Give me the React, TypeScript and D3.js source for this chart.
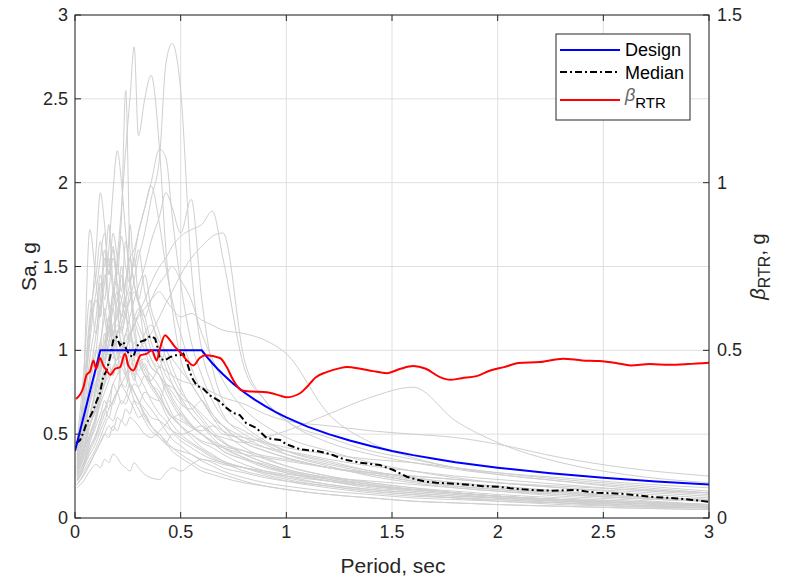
import React from "react";
import * as d3 from "d3";

// Period grid shared by the individual ground-motion spectra (sec)
const periods = [0.01, 0.04, 0.07, 0.1, 0.12, 0.14, 0.16, 0.18, 0.2, 0.22, 0.24, 0.26, 0.28, 0.3, 0.33, 0.36, 0.4, 0.43, 0.46, 0.5, 0.55, 0.6, 0.65, 0.7, 0.8, 0.9, 1.0, 1.2, 1.4, 1.6, 1.8, 2.0, 2.3, 2.6, 3.0];

// Scaled record spectra, Sa (g) at each period above
const records: number[][] = [
  [0.40,0.52,0.70,0.82,0.88,0.95,1.02,1.10,1.15,1.12,1.22,1.30,1.42,1.55,1.70,1.90,2.15,2.71,2.83,2.55,1.50,1.00,0.78,0.62,0.50,0.44,0.38,0.31,0.25,0.21,0.18,0.16,0.13,0.11,0.08],
  [0.35,0.48,0.68,0.80,0.92,1.05,1.20,1.35,1.55,1.85,2.20,2.50,2.81,2.28,2.50,2.64,2.20,1.60,1.25,0.95,0.80,0.70,0.60,0.52,0.42,0.36,0.31,0.25,0.21,0.18,0.15,0.13,0.11,0.09,0.07],
  [0.32,0.45,0.62,0.78,0.90,1.00,1.15,1.30,1.50,1.80,2.55,1.60,1.40,1.30,1.20,1.05,0.95,0.85,0.80,0.70,0.62,0.55,0.48,0.42,0.36,0.31,0.27,0.22,0.19,0.16,0.14,0.12,0.10,0.08,0.06],
  [0.38,0.55,0.80,1.00,1.25,1.40,1.60,1.95,2.19,2.00,1.70,1.45,1.20,1.10,1.00,0.90,0.85,0.75,0.68,0.60,0.55,0.50,0.45,0.40,0.35,0.32,0.28,0.23,0.20,0.17,0.15,0.13,0.11,0.09,0.07],
  [0.30,0.42,0.55,0.65,0.75,0.85,0.92,1.00,1.10,1.20,1.30,1.40,1.55,1.70,1.85,2.00,2.20,2.15,1.80,1.40,1.05,0.85,0.70,0.60,0.52,0.45,0.40,0.34,0.28,0.24,0.21,0.19,0.16,0.13,0.11],
  [0.42,0.70,1.10,1.60,1.94,1.75,1.50,1.62,1.40,1.30,1.20,1.35,1.10,1.00,0.90,0.85,0.78,0.70,0.62,0.55,0.48,0.42,0.38,0.34,0.30,0.26,0.23,0.19,0.16,0.14,0.12,0.11,0.09,0.08,0.06],
  [0.28,0.40,0.55,0.68,0.80,0.92,1.05,1.15,1.20,1.30,1.42,1.55,1.60,1.70,1.85,1.98,1.75,1.50,1.30,1.10,0.90,0.75,0.62,0.55,0.45,0.40,0.36,0.30,0.26,0.22,0.19,0.17,0.14,0.12,0.10],
  [0.25,0.32,0.42,0.50,0.58,0.65,0.72,0.80,0.85,0.92,1.00,1.08,1.15,1.22,1.30,1.40,1.50,1.55,1.62,1.68,1.72,1.75,1.83,1.55,0.90,0.70,0.58,0.48,0.40,0.35,0.30,0.27,0.23,0.20,0.16],
  [0.22,0.30,0.38,0.45,0.52,0.58,0.65,0.70,0.75,0.80,0.85,0.90,0.95,1.00,1.05,1.10,1.20,1.28,1.35,1.45,1.55,1.62,1.68,1.70,0.95,0.70,0.58,0.45,0.38,0.33,0.29,0.26,0.22,0.19,0.15],
  [0.30,0.40,0.50,0.60,0.68,0.75,0.82,0.90,0.95,1.00,1.10,1.20,1.30,1.38,1.50,1.65,1.80,1.94,1.85,1.70,1.90,1.30,0.90,0.70,0.55,0.46,0.40,0.33,0.28,0.24,0.21,0.19,0.16,0.13,0.11],
  [0.35,0.80,1.72,1.40,1.20,1.55,1.30,1.10,1.00,0.95,0.88,0.80,0.75,0.70,0.62,0.55,0.50,0.45,0.40,0.36,0.32,0.28,0.26,0.24,0.21,0.19,0.17,0.14,0.12,0.10,0.09,0.08,0.07,0.06,0.05],
  [0.40,0.75,1.20,1.45,1.65,1.50,1.75,1.40,1.30,1.50,1.25,1.10,1.15,0.95,0.85,0.80,0.72,0.65,0.60,0.55,0.50,0.45,0.42,0.38,0.32,0.28,0.25,0.20,0.17,0.15,0.13,0.12,0.10,0.08,0.07],
  [0.30,0.55,0.85,1.10,1.30,1.60,1.45,1.70,1.55,1.35,1.65,1.40,1.20,1.25,1.05,0.95,0.85,0.78,0.70,0.62,0.55,0.50,0.45,0.42,0.36,0.31,0.28,0.23,0.19,0.17,0.15,0.13,0.11,0.10,0.08],
  [0.26,0.40,0.60,0.80,1.00,1.25,1.10,1.35,1.20,1.45,1.30,1.75,1.50,1.60,1.35,1.20,1.00,0.90,0.80,0.72,0.62,0.55,0.50,0.45,0.40,0.35,0.31,0.25,0.21,0.18,0.16,0.14,0.12,0.10,0.08],
  [0.45,0.85,1.30,1.10,1.40,1.20,1.05,1.25,1.00,0.90,0.95,0.80,0.75,0.70,0.60,0.55,0.48,0.44,0.42,0.38,0.34,0.30,0.28,0.26,0.22,0.19,0.17,0.14,0.12,0.10,0.09,0.08,0.07,0.06,0.05],
  [0.20,0.25,0.32,0.40,0.45,0.50,0.55,0.52,0.60,0.58,0.65,0.62,0.70,0.68,0.75,0.72,0.70,0.80,0.75,0.68,0.65,0.70,0.60,0.55,0.48,0.42,0.38,0.32,0.27,0.23,0.20,0.18,0.15,0.12,0.10],
  [0.18,0.22,0.28,0.32,0.30,0.35,0.33,0.38,0.36,0.32,0.30,0.28,0.33,0.30,0.26,0.24,0.23,0.27,0.30,0.28,0.32,0.35,0.33,0.30,0.27,0.24,0.22,0.19,0.16,0.14,0.12,0.11,0.09,0.07,0.06],
  [0.22,0.30,0.45,0.55,0.62,0.70,0.65,0.80,0.75,0.90,0.85,0.95,1.05,0.98,1.10,1.15,1.05,1.00,0.95,0.88,0.80,0.70,0.62,0.55,0.45,0.40,0.36,0.30,0.26,0.22,0.19,0.17,0.15,0.13,0.11],
  [0.33,0.50,0.75,0.90,1.05,0.95,1.15,1.00,0.90,1.05,0.85,0.78,0.70,0.65,0.58,0.52,0.48,0.45,0.50,0.46,0.42,0.38,0.35,0.33,0.30,0.27,0.25,0.22,0.19,0.17,0.15,0.13,0.11,0.10,0.08],
  [0.28,0.38,0.55,0.70,0.85,1.00,1.20,1.05,1.30,1.15,1.00,1.10,0.95,0.88,0.92,0.80,0.75,0.65,0.60,0.62,0.55,0.52,0.55,0.50,0.48,0.45,0.42,0.38,0.35,0.33,0.30,0.27,0.24,0.21,0.18],
  [0.25,0.32,0.42,0.50,0.58,0.65,0.60,0.70,0.75,0.68,0.72,0.80,0.75,0.70,0.65,0.60,0.58,0.55,0.52,0.50,0.52,0.55,0.50,0.48,0.45,0.48,0.52,0.62,0.72,0.78,0.58,0.45,0.33,0.26,0.21],
  [0.22,0.28,0.35,0.42,0.48,0.55,0.60,0.58,0.65,0.70,0.68,0.75,0.80,0.78,0.85,0.82,0.90,0.88,0.85,0.82,0.80,0.78,0.75,0.72,0.68,0.62,0.58,0.55,0.52,0.50,0.48,0.44,0.36,0.30,0.25],
  [0.30,0.40,0.55,0.65,0.72,0.80,0.85,0.90,0.95,1.00,1.05,1.10,1.15,1.20,1.25,1.30,1.35,1.30,1.25,1.20,1.22,1.18,1.15,1.12,1.10,1.06,0.98,0.62,0.45,0.36,0.30,0.26,0.22,0.18,0.15],
  [0.24,0.33,0.46,0.58,0.70,0.82,0.95,1.05,1.10,1.15,1.25,1.30,1.35,1.28,1.20,1.30,1.40,1.45,1.50,1.42,1.30,1.10,0.95,0.82,0.65,0.55,0.48,0.40,0.33,0.28,0.24,0.21,0.18,0.15,0.12],
  [0.36,0.60,0.95,1.20,1.45,1.30,1.55,1.35,1.25,1.10,1.20,1.00,0.90,0.85,0.78,0.70,0.62,0.58,0.52,0.48,0.44,0.40,0.36,0.33,0.28,0.25,0.22,0.18,0.15,0.13,0.12,0.10,0.09,0.07,0.06],
  [0.27,0.35,0.48,0.60,0.72,0.80,0.90,0.85,1.00,0.95,1.10,1.05,1.20,1.15,1.05,0.95,0.90,1.00,0.90,0.78,0.66,0.58,0.50,0.45,0.38,0.33,0.29,0.24,0.20,0.17,0.15,0.13,0.11,0.09,0.08],
  [0.31,0.48,0.70,0.88,1.05,1.20,1.35,1.55,1.45,1.68,1.50,1.40,1.55,1.30,1.15,1.00,0.90,0.80,0.72,0.64,0.56,0.50,0.45,0.40,0.35,0.30,0.27,0.22,0.18,0.16,0.14,0.12,0.10,0.09,0.07],
  [0.23,0.30,0.40,0.48,0.55,0.62,0.70,0.68,0.75,0.80,0.78,0.88,0.82,0.92,0.95,0.90,0.85,0.80,0.78,0.72,0.68,0.62,0.56,0.52,0.46,0.42,0.40,0.35,0.31,0.28,0.25,0.23,0.20,0.17,0.14],
  [0.34,0.52,0.80,1.00,0.90,1.10,0.95,0.85,0.92,0.80,0.75,0.70,0.65,0.60,0.62,0.55,0.50,0.46,0.42,0.40,0.38,0.35,0.34,0.32,0.30,0.28,0.26,0.24,0.22,0.20,0.18,0.16,0.14,0.12,0.10],
  [0.20,0.26,0.33,0.40,0.45,0.50,0.48,0.55,0.52,0.58,0.55,0.60,0.58,0.55,0.50,0.48,0.52,0.56,0.60,0.58,0.54,0.50,0.46,0.43,0.40,0.37,0.35,0.30,0.27,0.25,0.23,0.21,0.18,0.16,0.13],
  [0.38,0.65,1.05,1.30,1.20,1.45,1.25,1.10,1.20,1.00,0.92,1.00,0.85,0.78,0.70,0.65,0.58,0.52,0.47,0.43,0.38,0.34,0.31,0.28,0.24,0.21,0.19,0.16,0.14,0.12,0.11,0.10,0.08,0.07,0.06],
  [0.29,0.42,0.60,0.75,0.88,1.00,1.10,1.25,1.35,1.20,1.40,1.55,1.40,1.30,1.45,1.25,1.10,0.95,0.85,0.75,0.68,0.60,0.52,0.46,0.38,0.33,0.29,0.24,0.20,0.17,0.15,0.13,0.11,0.09,0.08],
  [0.26,0.36,0.50,0.62,0.75,0.90,1.00,0.95,1.12,1.05,0.98,0.90,0.85,0.95,0.88,0.80,0.72,0.66,0.60,0.55,0.50,0.46,0.44,0.42,0.38,0.36,0.34,0.30,0.27,0.25,0.23,0.21,0.19,0.17,0.15],
  [0.41,0.72,1.15,1.35,1.55,1.70,1.45,1.60,1.35,1.20,1.30,1.15,1.00,0.95,0.85,0.78,0.70,0.62,0.56,0.50,0.45,0.41,0.37,0.34,0.30,0.27,0.24,0.20,0.17,0.15,0.13,0.12,0.10,0.09,0.07],
];

// Design spectrum (SDS = 1.0 g, SD1 = 0.6 g), [T, Sa]
const designSpectrum: [number, number][] = [
  [0, 0.4], [0.12, 1.0], [0.6, 1.0], [0.625, 0.96], [0.65, 0.923], [0.675, 0.889], [0.7, 0.857], [0.75, 0.8],
  [0.8, 0.75], [0.85, 0.706], [0.9, 0.667], [0.95, 0.632], [1.0, 0.6], [1.1, 0.545], [1.2, 0.5], [1.3, 0.462],
  [1.4, 0.429], [1.5, 0.4], [1.6, 0.375], [1.7, 0.353], [1.8, 0.333], [1.9, 0.316], [2.0, 0.3], [2.25, 0.267],
  [2.5, 0.24], [2.75, 0.218], [3.0, 0.2],
];

// Median of the scaled record set, [T, Sa]
const medianSpectrum: [number, number][] = [
  [0.005,0.445],[0.024,0.465],[0.04,0.51],[0.055,0.566],[0.07,0.6],[0.087,0.644],[0.1,0.69],[0.118,0.745],
  [0.134,0.843],[0.15,0.88],[0.166,0.96],[0.181,1.06],[0.197,1.08],[0.213,1.03],[0.229,1.05],[0.245,1.0],
  [0.26,0.97],[0.276,0.96],[0.292,1.02],[0.307,1.05],[0.33,1.06],[0.347,1.08],[0.363,1.085],[0.379,1.07],
  [0.39,1.02],[0.402,0.95],[0.426,0.94],[0.45,0.96],[0.473,0.97],[0.497,0.97],[0.513,0.98],[0.529,0.93],
  [0.552,0.84],[0.576,0.79],[0.607,0.77],[0.64,0.73],[0.68,0.70],[0.718,0.655],[0.75,0.626],[0.78,0.614],
  [0.81,0.566],[0.86,0.536],[0.875,0.515],[0.907,0.477],[0.94,0.47],[0.97,0.465],[1.0,0.44],[1.033,0.425],
  [1.065,0.41],[1.096,0.405],[1.144,0.40],[1.18,0.39],[1.22,0.376],[1.25,0.36],[1.286,0.346],[1.35,0.33],
  [1.40,0.322],[1.443,0.316],[1.475,0.30],[1.507,0.286],[1.54,0.265],[1.57,0.246],[1.62,0.228],[1.664,0.216],
  [1.71,0.21],[1.76,0.207],[1.82,0.203],[1.87,0.197],[1.93,0.19],[2.0,0.187],[2.06,0.178],[2.12,0.171],
  [2.18,0.166],[2.25,0.163],[2.31,0.165],[2.37,0.167],[2.42,0.158],[2.47,0.151],[2.53,0.148],[2.6,0.143],
  [2.66,0.135],[2.72,0.127],[2.78,0.122],[2.85,0.117],[2.92,0.108],[3.0,0.097],
];

// Record-to-record dispersion, [T, beta] on the right axis
const betaRTR: [number, number][] = [
  [0.005,0.355],[0.04,0.39],[0.055,0.427],[0.071,0.437],[0.087,0.47],[0.10,0.445],[0.118,0.477],[0.134,0.455],
  [0.15,0.44],[0.166,0.427],[0.19,0.445],[0.213,0.45],[0.237,0.49],[0.252,0.455],[0.276,0.44],[0.31,0.485],
  [0.34,0.49],[0.363,0.50],[0.387,0.47],[0.40,0.50],[0.426,0.545],[0.45,0.53],[0.473,0.51],[0.497,0.495],
  [0.53,0.47],[0.56,0.455],[0.59,0.477],[0.62,0.485],[0.686,0.477],[0.718,0.45],[0.75,0.41],[0.79,0.38],
  [0.84,0.377],[0.907,0.375],[0.97,0.365],[1.0,0.36],[1.065,0.372],[1.096,0.39],[1.14,0.42],[1.19,0.435],
  [1.254,0.447],[1.286,0.45],[1.35,0.445],[1.41,0.438],[1.475,0.432],[1.54,0.445],[1.6,0.453],[1.66,0.445],
  [1.727,0.42],[1.775,0.412],[1.83,0.417],[1.90,0.423],[1.965,0.44],[2.03,0.45],[2.1,0.462],[2.2,0.465],
  [2.31,0.475],[2.4,0.47],[2.48,0.468],[2.56,0.462],[2.63,0.455],[2.72,0.459],[2.81,0.457],[2.9,0.459],[3.0,0.463],
];

const xTicks = [0, 0.5, 1, 1.5, 2, 2.5, 3];
const yLeftTicks = [0, 0.5, 1, 1.5, 2, 2.5, 3];
const yRightTicks = [0, 0.5, 1, 1.5];

const W = 787;
const H = 580;
const FONT = "'Liberation Sans', Arial, Helvetica, sans-serif";
const AXIS = "#262626";

export default function App() {
  const left = 75, right = 709, top = 15, bottom = 518;
  const x = d3.scaleLinear().domain([0, 3]).range([left, right]);
  const yL = d3.scaleLinear().domain([0, 3]).range([bottom, top]);
  const yR = d3.scaleLinear().domain([0, 1.5]).range([bottom, top]);

  const lineL = d3.line<[number, number]>().x((d) => x(d[0])).y((d) => yL(d[1]));
  const smoothL = d3
    .line<[number, number]>()
    .x((d) => x(d[0]))
    .y((d) => yL(d[1]))
    .curve(d3.curveMonotoneX);
  const smoothR = d3
    .line<[number, number]>()
    .x((d) => x(d[0]))
    .y((d) => yR(d[1]))
    .curve(d3.curveMonotoneX);

  const fmt = (v: number) => String(v);
  const tickLen = 6;

  return (
    <svg
      width={W}
      height={H}
      style={{ position: "absolute", left: 0, top: 0, background: "#fff" }}
      fontFamily={FONT}
    >
      <defs>
        <clipPath id="plotClip">
          <rect x={left} y={top} width={right - left} height={bottom - top} />
        </clipPath>
      </defs>
      <rect x={0} y={0} width={W} height={H} fill="#fff" />

      {/* grid */}
      <g stroke="#dfdfdf" strokeWidth={1}>
        {xTicks.map((t) => (
          <line key={"gx" + t} x1={x(t)} x2={x(t)} y1={top} y2={bottom} />
        ))}
        {yLeftTicks.map((t) => (
          <line key={"gy" + t} x1={left} x2={right} y1={yL(t)} y2={yL(t)} />
        ))}
      </g>

      <g clipPath="url(#plotClip)" fill="none">
        {records.map((r, i) => (
          <path
            key={"r" + i}
            d={smoothL(periods.map((p, j) => [p, r[j]] as [number, number])) || ""}
            stroke="#cfcfcf"
            strokeWidth={1}
          />
        ))}
        <path d={lineL(medianSpectrum) || ""} stroke="#000" strokeWidth={2} strokeDasharray="7,3,2,3" />
        <path d={lineL(designSpectrum) || ""} stroke="#0000ff" strokeWidth={2} />
        <path d={smoothR(betaRTR) || ""} stroke="#ff0000" strokeWidth={2} />
      </g>

      {/* axes box */}
      <g stroke={AXIS} strokeWidth={1} fill="none">
        <rect x={left} y={top} width={right - left} height={bottom - top} />
        {xTicks.map((t) => (
          <g key={"tx" + t}>
            <line x1={x(t)} x2={x(t)} y1={bottom} y2={bottom - tickLen} />
            <line x1={x(t)} x2={x(t)} y1={top} y2={top + tickLen} />
          </g>
        ))}
        {yLeftTicks.map((t) => (
          <line key={"tyl" + t} x1={left} x2={left + tickLen} y1={yL(t)} y2={yL(t)} />
        ))}
        {yRightTicks.map((t) => (
          <line key={"tyr" + t} x1={right} x2={right - tickLen} y1={yR(t)} y2={yR(t)} />
        ))}
      </g>

      {/* tick labels */}
      <g fontSize={18} fill={AXIS}>
        {xTicks.map((t) => (
          <text key={"lx" + t} x={x(t)} y={bottom + 20} textAnchor="middle">
            {fmt(t)}
          </text>
        ))}
        {yLeftTicks.map((t) => (
          <text key={"ly" + t} x={left - 7} y={yL(t) + 6} textAnchor="end">
            {fmt(t)}
          </text>
        ))}
        {yRightTicks.map((t) => (
          <text key={"lr" + t} x={right + 8} y={yR(t) + 6} textAnchor="start">
            {fmt(t)}
          </text>
        ))}
      </g>

      {/* axis titles */}
      <text x={(left + right) / 2 + 1} y={573} textAnchor="middle" fontSize={21} fill={AXIS}>
        Period, sec
      </text>
      <text
        transform={`translate(36, ${(top + bottom) / 2}) rotate(-90)`}
        textAnchor="middle"
        fontSize={21}
        fill={AXIS}
      >
        Sa, g
      </text>
      <text
        transform={`translate(765, ${(top + bottom) / 2}) rotate(-90)`}
        textAnchor="middle"
        fontSize={20}
        fill={AXIS}
      >
        <tspan fontStyle="italic">β</tspan>
        <tspan fontSize={16} dy={5}>RTR</tspan>
        <tspan dy={-5}>, g</tspan>
      </text>

      {/* legend */}
      <g>
        <rect x={556} y={34} width={134} height={86} fill="#fff" stroke={AXIS} strokeWidth={1} />
        <line x1={560} x2={620} y1={50} y2={50} stroke="#0000ff" strokeWidth={2} />
        <line x1={560} x2={620} y1={72} y2={72} stroke="#000" strokeWidth={2} strokeDasharray="7,3,2,3" />
        <line x1={560} x2={620} y1={100} y2={100} stroke="#ff0000" strokeWidth={2} />
        <g fontSize={18} fill="#000">
          <text x={625} y={56}>Design</text>
          <text x={625} y={79}>Median</text>
          <text x={625} y={101}>
            <tspan fontStyle="italic" fill="#666">β</tspan>
            <tspan fontSize={15} dy={7}>RTR</tspan>
          </text>
        </g>
      </g>
    </svg>
  );
}
